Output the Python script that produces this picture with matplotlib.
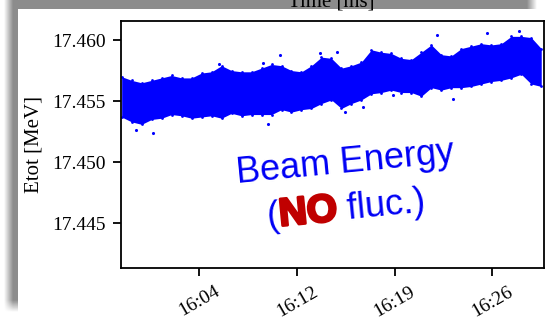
import numpy as np
import matplotlib
matplotlib.use("Agg")
import matplotlib.pyplot as plt
import matplotlib.patheffects as pe
from matplotlib.patches import Rectangle
from matplotlib.transforms import IdentityTransform

# time in minutes after 16:00, upper / lower edge of the dense band [MeV]
t_min = [-1.0, -0.25, 0.5, 1.25, 2.0, 2.75, 3.5, 4.25, 5.0, 5.75, 6.5,
         7.25, 8.0, 8.75, 9.5, 10.25, 11.0, 11.75, 12.5, 13.25, 14.0,
         14.75, 15.5, 16.25, 17.0, 17.75, 18.5, 19.25, 20.0, 20.75, 21.5,
         22.25, 23.0, 23.75, 24.5, 25.25, 26.0, 26.75, 27.5, 28.25, 29.0,
         29.75, 30.5]
e_hi = [17.4570, 17.4567, 17.4565, 17.4567, 17.4569, 17.4571, 17.4569,
        17.4569, 17.4573, 17.4574, 17.4579, 17.4575, 17.4574, 17.4574,
        17.4577, 17.4580, 17.4579, 17.4575, 17.4574, 17.4579, 17.4586,
        17.4585, 17.4577, 17.4579, 17.4582, 17.4592, 17.4590, 17.4589,
        17.4585, 17.4584, 17.4590, 17.4596, 17.4588, 17.4587, 17.4593,
        17.4595, 17.4597, 17.4596, 17.4597, 17.4603, 17.4603, 17.4602,
        17.4593]
e_lo = [17.4537, 17.4533, 17.4531, 17.4535, 17.4536, 17.4539, 17.4538,
        17.4536, 17.4537, 17.4538, 17.4536, 17.4540, 17.4538, 17.4539,
        17.4539, 17.4539, 17.4543, 17.4541, 17.4543, 17.4544, 17.4548,
        17.4551, 17.4544, 17.4548, 17.4551, 17.4556, 17.4557, 17.4559,
        17.4557, 17.4557, 17.4554, 17.4561, 17.4559, 17.4561, 17.4561,
        17.4562, 17.4564, 17.4566, 17.4567, 17.4569, 17.4572, 17.4564,
        17.4562]
# isolated points outside the band
out_t = [0.07, 1.35, 6.31, 9.6, 9.99, 10.9, 13.9, 15.2, 15.77, 17.1,
         19.4, 22.7, 23.9, 26.4, 28.8]
out_e = [17.4526, 17.4524, 17.4580, 17.4581, 17.4531, 17.4588, 17.4589,
         17.4590, 17.4541, 17.4545, 17.4555, 17.4604, 17.4552, 17.4606,
         17.4607]

tick_pos = [4.833, 12.167, 19.5, 26.833]
tick_lab = ["16:04", "16:12", "16:19", "16:26"]
y_ticks = [17.445, 17.450, 17.455, 17.460]

W, H = 550, 325
fig = plt.figure(figsize=(5.5, 3.25), dpi=100)

# drop shadow + white card behind the plot
bg = fig.add_axes([0, 0, 1, 1])
bg.set_axis_off()
xx = np.arange(W) + 0.5
yy = np.arange(H) + 0.5
sx = np.clip((xx - 4) / 9, 0, 1) * np.clip((537 - xx) / 10, 0, 1)
sy = np.clip((312 - yy) / 12, 0, 1)
shade = 1 - 0.45 * np.outer(sy, sx)
bg.imshow(shade, cmap="gray", vmin=0, vmax=1, extent=(0, W, H, 0),
          interpolation="bilinear")
bg.add_patch(Rectangle((18, 9), W, 305, facecolor="white", edgecolor="none"))
bg.set_xlim(0, W)
bg.set_ylim(H, 0)
bg.text(331, 7, "Time [ms]", family="Liberation Serif", fontsize=15,
        ha="center", va="baseline")

ax = fig.add_axes([0.2195, 0.1763, 0.7687, 0.76])
ax.fill_between(t_min, e_lo, e_hi, color="#0000ff", lw=0)
ax.scatter(t_min, e_hi, s=4, color="#0000ff", lw=0)
ax.scatter(t_min, e_lo, s=4, color="#0000ff", lw=0)
ax.scatter(out_t, out_e, s=5, color="#0000ff", lw=0)

ax.set_xlim(-1.07, 30.67)
ax.set_ylim(17.44137, 17.46158)
ax.set_xticks(tick_pos)
ax.set_xticklabels(tick_lab, rotation=30, ha="center")
ax.set_yticks(y_ticks)
ax.set_yticklabels([f"{v:.3f}" for v in y_ticks])
ax.tick_params(direction="out", length=6, width=1.3, labelsize=14, pad=5)
for lab in ax.get_xticklabels() + ax.get_yticklabels():
    lab.set_family("Liberation Serif")
for sp in ax.spines.values():
    sp.set_linewidth(1.3)
ax.set_ylabel("Etot [MeV]", family="Liberation Serif", fontsize=15,
              labelpad=6)

# annotation text
ang = 5.5
blue = "#0000f5"
fig.text(345 / W, 1 - 163 / H, "Beam Energy", family="Liberation Sans",
         fontsize=26, color=blue, rotation=ang, rotation_mode="anchor",
         ha="center", va="center")

renderer = fig.canvas.get_renderer()
x0, y0 = 268, H - 227
pieces = [("(", blue, "normal", 26), ("NO", "#c00000", "bold", 28),
          (" fluc.)", blue, "normal", 26)]
dist = 0
for s, c, w, size in pieces:
    t = fig.text(0, 0, s, family="Liberation Sans", fontsize=size, color=c,
                 fontweight=w, transform=IdentityTransform(),
                 ha="left", va="baseline")
    if s == "NO":
        t.set_path_effects([pe.withStroke(linewidth=2, foreground=c)])
    width = t.get_window_extent(renderer).width
    t.set_position((x0 + dist * np.cos(np.deg2rad(ang)),
                    y0 + dist * np.sin(np.deg2rad(ang))))
    t.set_rotation(ang)
    t.set_rotation_mode("anchor")
    dist += width

fig.savefig("out.png", dpi=100)
